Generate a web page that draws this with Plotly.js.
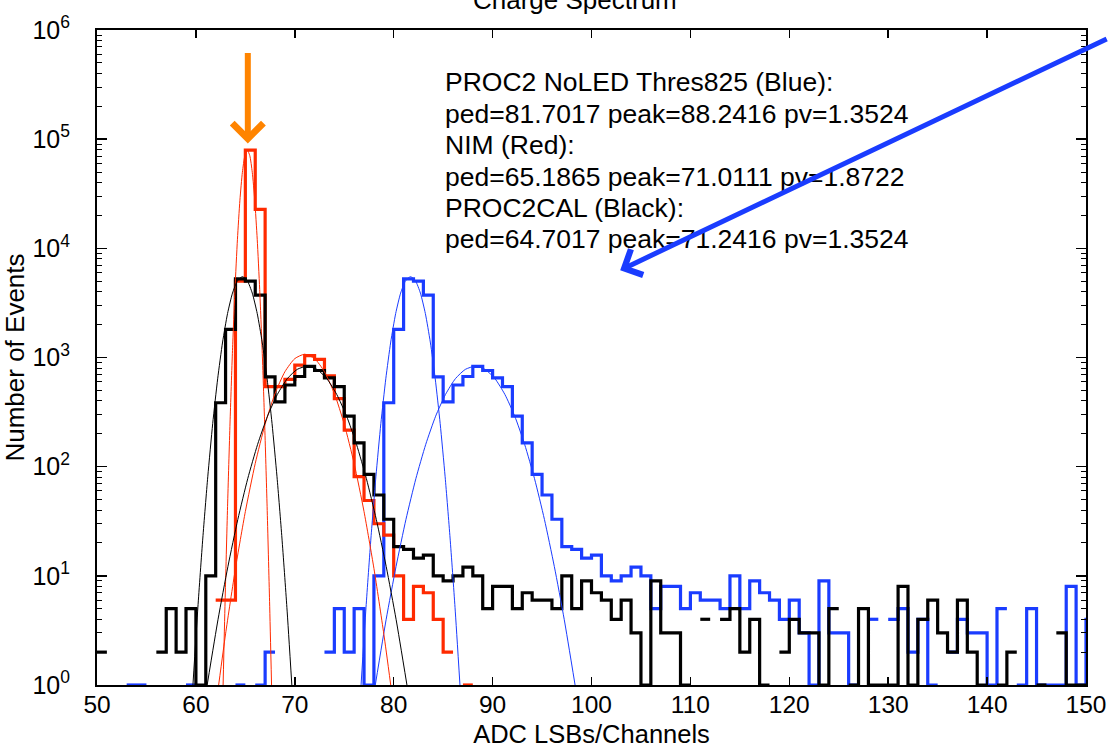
<!DOCTYPE html>
<html>
<head>
<meta charset="utf-8">
<script src="https://cdn.plot.ly/plotly-3.0.1.min.js"></script>
<style>
html,body{margin:0;padding:0;background:#fff;}
#chart{width:1110px;height:748px;}
</style>
</head>
<body>
<div id="chart"></div>
<script>
// ---------- data ----------
// lower edge of each 1-channel bin
const binLeft = [50,51,52,53,54,55,56,57,58,59,60,61,62,63,64,65,66,67,68,69,
  70,71,72,73,74,75,76,77,78,79,80,81,82,83,84,85,86,87,88,89,
  90,91,92,93,94,95,96,97,98,99,100,101,102,103,104,105,106,107,108,109,
  110,111,112,113,114,115,116,117,118,119,120,121,122,123,124,125,126,127,128,129,
  130,131,132,133,134,135,136,137,138,139,140,141,142,143,144,145,146,147,148,149,150];
const binWidth = 1;

// PROC2CAL (Black)
const blackCounts = [2,0,0,0,0,0,2,5,2,5,
  1,10,385,1810,5250,5000,3720,665,392,560,
  670,830,760,650,540,290,165,85,55,33,
  18.5,17.5,14.5,15.5,10,9,10,12,10,5,
  8,8,5,7,6,6,5,10,5,9,
  7,6,4,6,3,1,9,3,3,1,
  0,4,0,4,5,2,4,1,0,2,
  4,3,3,1,5,0,1,5,1,1,
  1,8,1,4,6,3,2,6,2,1,
  0,1,2,0,0,1,0,3,1,1,
  0];

// PROC2 NoLED Thres825 (Blue)
const blueCounts = [0,0,0,1,1,0,0,0,0,1,
  0,0,0,0,1,0,1,2,0,0,
  0,0,0,2,5,2,5,1,10,385,
  1810,5250,5000,3720,665,392,560,670,830,760,
  650,540,290,165,85,55,33,18.5,17.5,14.5,
  15.5,10,9,10,12,10,5,8,8,5,
  7,6,6,5,10,5,9,7,6,4,
  6,3,1,9,3,3,1,0,4,0,
  4,5,2,4,1,0,2,4,3,3,
  1,5,0,1,5,1,1,1,8,1,
  4];

// NIM (Red)
const redCounts = [0,0,0,0,0,0,0,0,0,0,
  0,0,6,6,5000,79400,22700,540,540,630,
  850,1040,960,680,420,216,81,49,30,23.6,
  10,4,8,7,4,2,0,1,0,0,
  0,0,0,0,0,0,0,0,0,0,
  0,0,0,0,0,0,0,0,0,0,
  0,0,0,0,0,0,0,0,0,0,
  0,0,0,0,0,0,0,0,0,0,
  0,0,0,0,0,0,0,0,0,0,
  0,0,0,0,0,0,0,0,0,0,
  0];

const redPedFitX = [62.75,62.95,63.2,63.45,63.7,63.95,64.2,64.45,64.7,64.95,65.2,65.45,65.7,65.95,66.2,66.45,66.7,66.95,67.2,67.45,67.65];
const redPedFitY = [1,5.8,43,251,1160,4210,12100,27600,49700,70600,79400,70600,49700,27600,12100,4210,1160,251,43,5.8,1];
const redSigFitX = [62.3,63,64,65,66,67,68,69,70,71,72,73,74,75,76,77,78,79,79.7];
const redSigFitY = [1,2.94,11.7,38.8,107,245,468,741,977,1072,977,741,468,245,107,38.8,11.7,2.94,1];

const blackPedFitX = [59.7,60.2,60.7,61.2,61.7,62.2,62.7,63.2,63.7,64.2,64.7,65.2,65.7,66.2,66.7,67.2,67.7,68.2,68.7,69.2,69.7];
const blackPedFitY = [1,5.14,22.2,80.8,248,638,1386,2530,3890,5040,5500,5040,3890,2530,1386,638,248,80.8,22.2,5.14,1];
const blackSigFitX = [61.14,62.24,63.24,64.24,65.24,66.24,67.24,68.24,69.24,70.24,71.24,72.24,73.24,74.24,75.24,76.24,77.24,78.24,79.24,80.24,81.34];
const blackSigFitY = [1,4.0,12.2,32.9,77.6,160,290,459,640,778,832,778,640,459,290,160,77.6,32.9,12.2,4.0,1];

const bluePedFitX = [76.7,77.2,77.7,78.2,78.7,79.2,79.7,80.2,80.7,81.2,81.7,82.2,82.7,83.2,83.7,84.2,84.7,85.2,85.7,86.2,86.7];
const bluePedFitY = [1,5.14,22.2,80.8,248,638,1386,2530,3890,5040,5500,5040,3890,2530,1386,638,248,80.8,22.2,5.14,1];
const blueSigFitX = [78.14,79.24,80.24,81.24,82.24,83.24,84.24,85.24,86.24,87.24,88.24,89.24,90.24,91.24,92.24,93.24,94.24,95.24,96.24,97.24,98.34];
const blueSigFitY = [1,4.0,12.2,32.9,77.6,160,290,459,640,778,832,778,640,459,290,160,77.6,32.9,12.2,4.0,1];

const infoLines = [
  'PROC2 NoLED Thres825 (Blue):',
  'ped=81.7017 peak=88.2416 pv=1.3524',
  'NIM (Red):',
  'ped=65.1865 peak=71.0111 pv=1.8722',
  'PROC2CAL (Black):',
  'ped=64.7017 peak=71.2416 pv=1.3524'
];
const yTickVals = [1,10,100,1000,10000,100000,1000000];
const yTickText = ['10<sup>0</sup>','10<sup>1</sup>','10<sup>2</sup>','10<sup>3</sup>','10<sup>4</sup>','10<sup>5</sup>','10<sup>6</sup>'];

// ---------- styles ----------
const C_BLUE = '#1a3cff', C_RED = '#ff2a00', C_BLACK = '#000000', C_ORANGE = '#ff8400';
const FONT = 'Liberation Sans, Arial, Helvetica, sans-serif';

// build histogram step outline; zero bins leave gaps (log axis)
function stepOutline(counts){
  const xs = [], ys = [];
  for (let i = 0; i < counts.length; i++){
    const v = counts[i];
    if (!(v > 0)){
      if (xs.length && xs[xs.length-1] !== null){ xs.push(null); ys.push(null); }
      continue;
    }
    xs.push(binLeft[i], binLeft[i] + binWidth);
    ys.push(v, v);
  }
  return {xs, ys};
}
function histTrace(counts, color, name){
  const s = stepOutline(counts);
  return {type:'scatter', mode:'lines', x:s.xs, y:s.ys, name:name,
    line:{color:color, width:3.2, shape:'linear'}, connectgaps:false, hoverinfo:'skip'};
}
function fitTrace(xs, ys, color){
  return {type:'scatter', mode:'lines', x:xs, y:ys, line:{color:color, width:1, shape:'spline', smoothing:0.6}, hoverinfo:'skip'};
}

const traces = [
  histTrace(blueCounts, C_BLUE, 'PROC2 NoLED Thres825'),
  histTrace(redCounts, C_RED, 'NIM'),
  histTrace(blackCounts, C_BLACK, 'PROC2CAL'),
  fitTrace(bluePedFitX, bluePedFitY, C_BLUE),
  fitTrace(blueSigFitX, blueSigFitY, C_BLUE),
  fitTrace(redPedFitX, redPedFitY, C_RED),
  fitTrace(redSigFitX, redSigFitY, C_RED),
  fitTrace(blackPedFitX, blackPedFitY, C_BLACK),
  fitTrace(blackSigFitX, blackSigFitY, C_BLACK)
];

const minorVals = [];
for (let d = 0; d < 6; d++){ for (let k = 2; k <= 9; k++){ minorVals.push(k * Math.pow(10, d)); } }

const annotations = [];
const lineY = [0.9206, 0.8725, 0.8244, 0.7763, 0.7282, 0.6802];
infoLines.forEach((t, i) => {
  annotations.push({xref:'paper', yref:'paper', x:0.350, y:lineY[i], xanchor:'left', yanchor:'middle',
    text:t, showarrow:false, font:{family:FONT, size:26.5, color:'#000'}});
});
// partially visible title
annotations.push({xref:'paper', yref:'paper', x:0.4833, y:1.046, xanchor:'center', yanchor:'middle',
  text:'Charge Spectrum', showarrow:false, font:{family:FONT, size:26, color:'#000'}});
// orange arrow pointing at NIM pedestal peak
annotations.push({xref:'x', yref:'y', x:65.25, y:4.96, ax:0, ay:-92, axref:'pixel', ayref:'pixel',
  text:'', showarrow:true, arrowhead:4, arrowsize:1.0, arrowwidth:6, arrowcolor:C_ORANGE});
// blue arrow
annotations.push({xref:'x', yref:'y', x:102.9, y:3.80, ax:488, ay:-232, axref:'pixel', ayref:'pixel',
  text:'', showarrow:true, arrowhead:4, arrowsize:1.1, arrowwidth:5, arrowcolor:C_BLUE});

const layout = {
  width:1110, height:748,
  margin:{l:97, r:24, t:30, b:63, pad:0},
  paper_bgcolor:'#ffffff', plot_bgcolor:'#ffffff',
  showlegend:false,
  font:{family:FONT, size:25, color:'#000'},
  xaxis:{
    range:[50,150], tick0:50, dtick:10, ticks:'inside', ticklen:8, tickwidth:1.5, tickcolor:'#000',
    showline:true, linewidth:2, linecolor:'#000', mirror:'allticks', showgrid:false, zeroline:false,
    tickfont:{family:FONT, size:24.5, color:'#000'}, ticklabelstandoff:-3,
    title:{text:'ADC LSBs/Channels', font:{family:FONT, size:25.5, color:'#000'}, standoff:8}
  },
  yaxis:{
    type:'log', range:[0,6], tickmode:'array', tickvals:yTickVals, ticktext:yTickText,
    ticks:'inside', ticklen:10, tickwidth:1.5, tickcolor:'#000',
    minor:{tickmode:'array', tickvals:minorVals, ticks:'inside', ticklen:5, tickwidth:1, tickcolor:'#000', showgrid:false},
    showline:true, linewidth:2, linecolor:'#000', mirror:'allticks', showgrid:false, zeroline:false,
    tickfont:{family:FONT, size:25, color:'#000'}, ticklabelstandoff:20,
    title:{text:'Number of Events', font:{family:FONT, size:26, color:'#000'}, standoff:2}
  },
  annotations:annotations
};

Plotly.newPlot('chart', traces, layout, {displayModeBar:false, staticPlot:true});
</script>
</body>
</html>
